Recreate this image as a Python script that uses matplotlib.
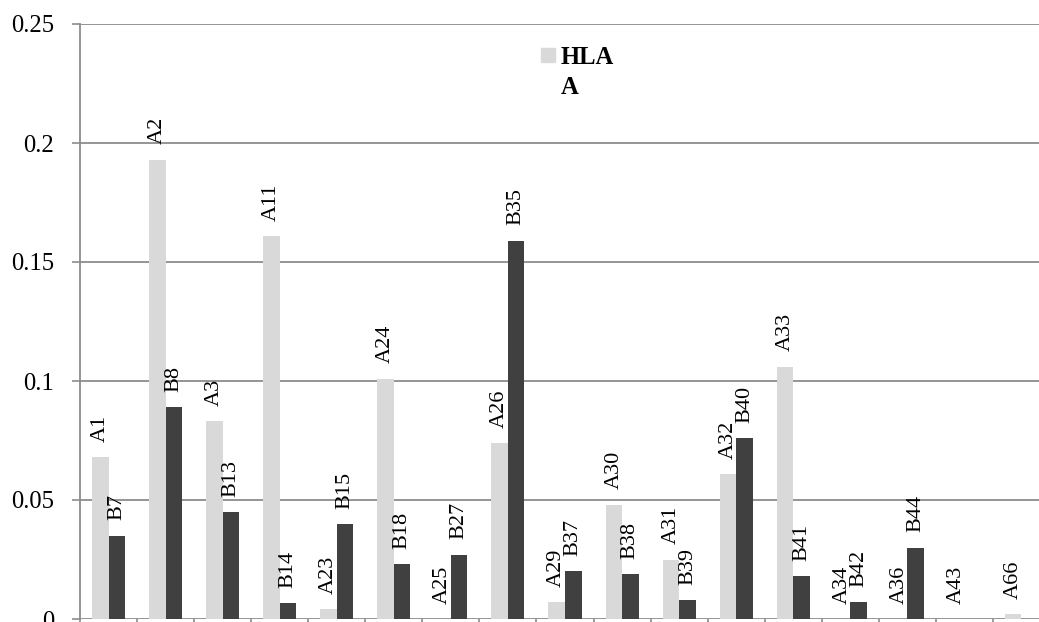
import numpy as np
import matplotlib.pyplot as plt
from matplotlib.patches import Rectangle

# allele frequencies, one group per column: HLA-A (light) and HLA-B (dark)
a_alleles = ["A1", "A2", "A3", "A11", "A23", "A24", "A25", "A26", "A29", "A30",
             "A31", "A32", "A33", "A34", "A36", "A43", "A66"]
a_freq = [0.068, 0.193, 0.083, 0.161, 0.004, 0.101, 0.0, 0.074, 0.007, 0.048,
          0.025, 0.061, 0.106, 0.0, 0.0, 0.0, 0.002]
b_alleles = ["B7", "B8", "B13", "B14", "B15", "B18", "B27", "B35", "B37", "B38",
             "B39", "B40", "B41", "B42", "B44"]
b_freq = [0.035, 0.089, 0.045, 0.0066, 0.040, 0.023, 0.027, 0.159, 0.020, 0.019,
          0.008, 0.076, 0.018, 0.007, 0.030]
y_ticks = [0, 0.05, 0.1, 0.15, 0.2, 0.25]
y_ticklabels = ["0", "0.05", "0.1", "0.15", "0.2", "0.25"]

plt.rcParams['font.family'] = 'Liberation Serif'

light = "#d9d9d9"
dark = "#404040"
grid = "#8c8c8c"
w = 0.29

W, H = 1039, 622
fig = plt.figure(figsize=(W/100, H/100), dpi=100)
# plot area runs a little past the right edge of the figure
ax = fig.add_axes([80/W, 3/H, (1050-80)/W, 595/H])

xa = np.arange(len(a_alleles))
xb = np.arange(len(b_alleles))
bars_a = ax.bar(xa - w/2, a_freq, width=w, color=light, zorder=3)
bars_b = ax.bar(xb + w/2, b_freq, width=w, color=dark, zorder=3)

for bars, names in ((bars_a, a_alleles), (bars_b, b_alleles)):
    for bar, name in zip(bars, names):
        ax.annotate(name, (bar.get_x() + bar.get_width()/2, bar.get_height()),
                    xytext=(0, 11), textcoords="offset points",
                    rotation=90, ha="center", va="bottom", fontsize=16)

ax.set_xlim(-0.5, len(a_alleles) - 0.5)
ax.set_ylim(0, 0.25)
ax.set_yticks(y_ticks)
ax.set_yticklabels(y_ticklabels)
ax.set_xticks(np.arange(len(a_alleles) + 1) - 0.5)
ax.set_xticklabels([])
ax.tick_params(axis="y", direction="out", length=5.8, width=1.2, color=grid,
               labelsize=17.7, pad=13)
ax.tick_params(axis="x", direction="out", length=6, width=1.2, color=grid)
ax.yaxis.grid(True, color=grid, linewidth=1.3, zorder=0)
ax.set_axisbelow(True)
for side in ("top", "right", "bottom"):
    ax.spines[side].set_visible(False)
ax.spines["left"].set_color(grid)
ax.spines["left"].set_linewidth(1.3)

# legend: swatch plus wrapped label
fig.add_artist(Rectangle((541/W, 1 - 62/H), 14/W, 14/H, color=light,
                         transform=fig.transFigure))
fig.text(561/W, 1 - 64/H, "HLA", fontsize=17.7, weight="bold", va="baseline")
fig.text(561/W, 1 - 94/H, "A", fontsize=17.7, weight="bold", va="baseline")

fig.savefig("out.png", dpi=100)
